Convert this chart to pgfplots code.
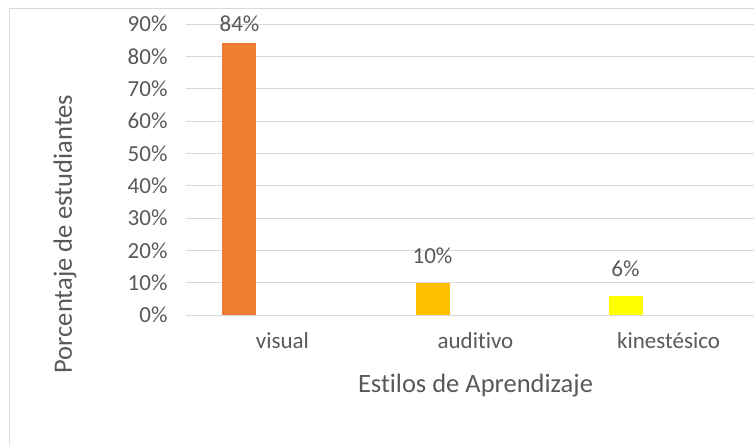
\documentclass[border=0pt]{standalone}
\usepackage{pgfplots}
\pgfplotsset{compat=1.18}
\usepackage{fontspec}
\setmainfont{Carlito}[Ligatures=NoCommon]
\definecolor{txt}{HTML}{595959}
\definecolor{gridc}{HTML}{D9D9D9}
\definecolor{c1}{HTML}{ED7D31}
\definecolor{c2}{HTML}{FFC000}
\definecolor{c3}{HTML}{FFFF00}
\begin{document}
\begin{tikzpicture}
\draw[gridc, line width=1pt] (-176pt,-200pt) -- (-176pt,306pt) -- (600pt,306pt);
\begin{axis}[
  at={(0pt,0pt)}, anchor=south west,
  scale only axis, width=579pt, height=291pt,
  xmin=-0.5, xmax=2.5, ymin=0, ymax=90,
  ytick={0,10,...,90},
  xtick={0,1,2},
  xticklabels={visual,auditivo,kinestésico},
  ymajorgrids, grid style={gridc, line width=1pt},
  axis line style={draw=none},
  major tick length=0pt,
  /pgf/number format/assume math mode=true,
  yticklabel={\pgfmathprintnumber{\tick}\%},
  tick label style={font=\fontsize{23}{26}\selectfont, text=txt},
  yticklabel style={xshift=-15pt},
  xticklabel style={yshift=-14pt},
  xlabel={Estilos de Aprendizaje},
  ylabel={Porcentaje de estudiantes},
  xlabel style={at={([yshift=-77pt]rel axis cs:0.5,0)}, anchor=base, font=\fontsize{26.5}{30}\selectfont, text=txt},
  ylabel style={at={([xshift=-114pt,yshift=81pt]rel axis cs:0,0)}, anchor=base, font=\fontsize{26.5}{30}\selectfont, text=txt},
  every node near coord/.append style={font=\fontsize{23}{26}\selectfont, text=txt, anchor=base, xshift=-43pt},
  nodes near coords={\pgfmathprintnumber{\pgfplotspointmeta}\%},
]
\addplot[ybar, bar width=34pt, bar shift=-43pt, fill=c1, draw=none,
  nodes near coords style={yshift=12pt}] coordinates {(0,84)};
\addplot[ybar, bar width=34pt, bar shift=-43pt, fill=c2, draw=none,
  nodes near coords style={yshift=19pt}] coordinates {(1,10)};
\addplot[ybar, bar width=34pt, bar shift=-43pt, fill=c3, draw=none,
  nodes near coords style={yshift=19pt}] coordinates {(2,6)};
\end{axis}
\pgfresetboundingbox
\path[use as bounding box] (-186pt,-129pt) rectangle (568pt,315pt);
\end{tikzpicture}
\end{document}
